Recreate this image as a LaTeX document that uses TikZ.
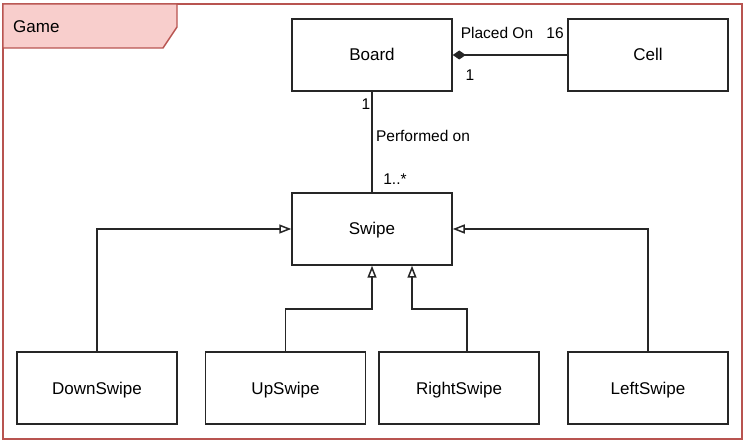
\documentclass[tikz,border=0pt]{standalone}
\usepackage{fontspec}
\setmainfont{Liberation Sans}
\usetikzlibrary{arrows.meta}
\definecolor{framered}{HTML}{B85450}
\definecolor{tabpink}{HTML}{F8CECC}
\tikzset{
  classbox/.style={draw=black!85, line width=1.5pt, minimum width=160pt, minimum height=72pt,
    inner sep=0pt, text height=12pt, text depth=0pt, font=\fontsize{17}{20}\selectfont},
  rel/.style={draw=black!85, line width=1.5pt},
  inherit/.style={rel, -{Triangle[open, length=12pt, width=9pt, fill=white]}},
  lbl/.style={font=\fontsize{15.5}{18}\selectfont, inner sep=0pt}
}
\begin{document}
\begin{tikzpicture}[x=1pt, y=-1pt]
    \useasboundingbox (0,0) rectangle (746,443);
    % frame
    \draw[framered, line width=1.4pt] (3,4) rectangle (742,439);
    \draw[framered, fill=tabpink, line width=1.4pt] (3,4) -- (177,4) -- (177,27) -- (163,48) -- (3,48) -- cycle;
    \node (game) [anchor=west, font=\fontsize{17}{20}\selectfont, inner sep=0pt] at (13,27) {Game};
    % classes
    \node (board) [classbox] at (372,55) {Board};
    \node (cell) [classbox] at (648,55) {Cell};
    \node (swipe) [classbox] at (372,229) {Swipe};
    \node (down) [classbox] at (97,388) {DownSwipe};
    \node (up) [classbox] at (285.5,388) {UpSwipe};
    \node (right) [classbox] at (459,388) {RightSwipe};
    \node (left) [classbox] at (648,388) {LeftSwipe};
    % associations
    \draw[rel, {Diamond[length=13pt, width=9pt]}-] (board.east) -- (cell.west);
    \node (placed) [lbl] at (497,33) {Placed On};
    \node (many) [lbl] at (555,33) {16};
    \node (one) [lbl] at (470,75) {1};
    \draw[rel] (board.south) -- (swipe.north);
    \node (bone) [lbl] at (366,104) {1};
    \node (perf) [lbl] at (423,136) {Performed on};
    \node (smany) [lbl] at (395,179) {1..*};
    % generalisations
    \coordinate (upjoin) at (372,309);
    \coordinate (rightjoin) at (412,309);
    \draw[inherit] (down.north) |- (swipe.west);
    \draw[inherit] (left.north) |- (swipe.east);
    \draw[inherit] (up.north) |- (upjoin) -- (swipe.south);
    \draw[inherit] ([xshift=8pt]right.north) |- (rightjoin) -- (swipe.south -| rightjoin);
\end{tikzpicture}
\end{document}
